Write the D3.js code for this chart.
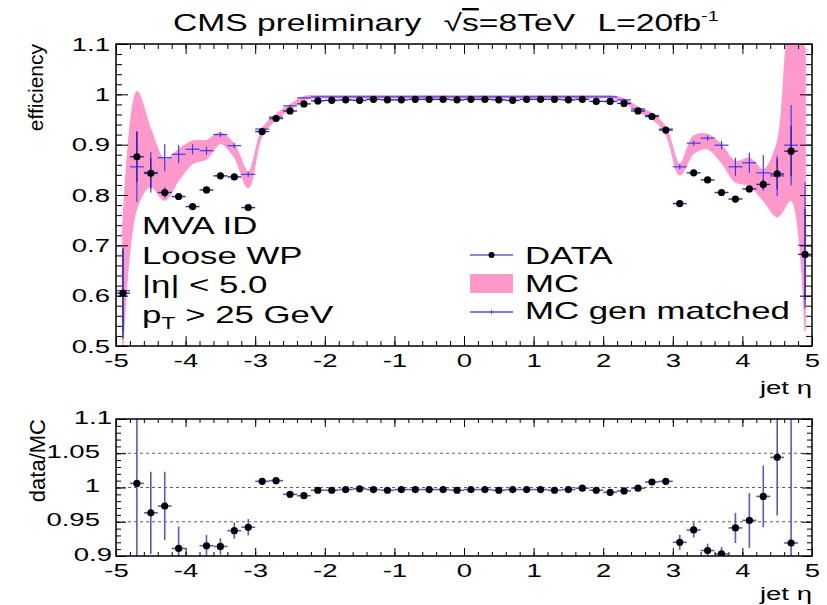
<!DOCTYPE html>
<html>
<head>
<meta charset="utf-8">
<title>Jet MVA ID efficiency vs jet eta</title>
<script src="https://cdn.jsdelivr.net/npm/d3@7"></script>
<style>
  body { margin: 0; background: #fff; }
  svg text { font-family: "Liberation Sans", Arial, Helvetica, sans-serif; fill: #000; }
</style>
</head>
<body>
<div id="chart"></div>
<script>
// bin centres in jet eta (bin width 0.2)
var etaBins = [-4.9, -4.7, -4.5, -4.3, -4.1, -3.9, -3.7, -3.5, -3.3, -3.1,
               -2.9, -2.7, -2.5, -2.3, -2.1, -1.9, -1.7, -1.5, -1.3, -1.1,
               -0.9, -0.7, -0.5, -0.3, -0.1, 0.1, 0.3, 0.5, 0.7, 0.9,
               1.1, 1.3, 1.5, 1.7, 1.9, 2.1, 2.3, 2.5, 2.7, 2.9,
               3.1, 3.3, 3.5, 3.7, 3.9, 4.1, 4.3, 4.5, 4.7, 4.9];

// DATA efficiency
var dataEff = [0.605, 0.876, 0.843, 0.805, 0.797, 0.777, 0.810, 0.838, 0.836, 0.775,
               0.926, 0.952, 0.967, 0.981, 0.987, 0.988, 0.989, 0.988, 0.990, 0.989,
               0.989, 0.990, 0.990, 0.990, 0.989, 0.990, 0.990, 0.989, 0.988, 0.990,
               0.990, 0.990, 0.989, 0.990, 0.986, 0.986, 0.982, 0.967, 0.956, 0.929,
               0.783, 0.844, 0.830, 0.805, 0.792, 0.812, 0.821, 0.842, 0.887, 0.682];
var dataErr = [0.090, 0.050, 0.030, 0.010, 0.006, 0.004, 0.004, 0.003, 0.003, 0.003,
               0.002, 0.002, 0.001, 0.001, 0.001, 0.001, 0.001, 0.001, 0.001, 0.001,
               0.001, 0.001, 0.001, 0.001, 0.001, 0.001, 0.001, 0.001, 0.001, 0.001,
               0.001, 0.001, 0.001, 0.001, 0.001, 0.001, 0.001, 0.001, 0.002, 0.002,
               0.003, 0.003, 0.003, 0.004, 0.004, 0.006, 0.010, 0.030, 0.050, 0.090];

// MC efficiency band (centre and half width)
var mcEff = [0.620, 0.890, 0.873, 0.830, 0.860, 0.885, 0.890, 0.913, 0.888, 0.830,
             0.925, 0.955, 0.975, 0.992, 0.995, 0.995, 0.995, 0.995, 0.995, 0.995,
             0.995, 0.995, 0.995, 0.995, 0.995, 0.995, 0.995, 0.995, 0.995, 0.995,
             0.995, 0.995, 0.995, 0.995, 0.995, 0.995, 0.988, 0.970, 0.957, 0.928,
             0.850, 0.900, 0.906, 0.882, 0.846, 0.846, 0.820, 0.830, 0.960, 0.810];
var mcErr = [0.120, 0.115, 0.056, 0.040, 0.030, 0.022, 0.018, 0.010, 0.012, 0.015,
             0.006, 0.005, 0.004, 0.003, 0.002, 0.002, 0.002, 0.002, 0.002, 0.002,
             0.002, 0.002, 0.002, 0.002, 0.002, 0.002, 0.002, 0.002, 0.002, 0.002,
             0.002, 0.002, 0.002, 0.002, 0.002, 0.002, 0.003, 0.004, 0.005, 0.006,
             0.010, 0.017, 0.014, 0.017, 0.020, 0.027, 0.030, 0.073, 0.170, 0.280];

// MC gen matched efficiency
var genEff = [0.610, 0.856, 0.845, 0.874, 0.881, 0.891, 0.888, 0.920, 0.898, 0.841,
              0.931, 0.955, 0.977, 0.993, 0.995, 0.995, 0.995, 0.995, 0.995, 0.995,
              0.995, 0.995, 0.995, 0.995, 0.995, 0.995, 0.995, 0.995, 0.995, 0.995,
              0.995, 0.995, 0.995, 0.995, 0.995, 0.995, 0.989, 0.971, 0.958, 0.931,
              0.856, 0.903, 0.913, 0.899, 0.856, 0.864, 0.844, 0.838, 0.899, 0.700];
var genErr = [0.080, 0.070, 0.040, 0.027, 0.018, 0.010, 0.008, 0.005, 0.005, 0.005,
              0.003, 0.002, 0.002, 0.001, 0.001, 0.001, 0.001, 0.001, 0.001, 0.001,
              0.001, 0.001, 0.001, 0.001, 0.001, 0.001, 0.001, 0.001, 0.001, 0.001,
              0.001, 0.001, 0.001, 0.001, 0.001, 0.001, 0.001, 0.002, 0.002, 0.003,
              0.005, 0.005, 0.005, 0.008, 0.018, 0.020, 0.035, 0.040, 0.080, 0.125];

// data/MC ratio (null = not drawn)
var ratio = [null, 1.006, 0.963, 0.973, 0.911, null, 0.915, 0.914, 0.937, 0.942,
             1.009, 1.010, 0.990, 0.988, 0.996, 0.996, 0.997, 0.998, 0.997, 0.996,
             0.997, 0.997, 0.997, 0.997, 0.996, 0.997, 0.997, 0.996, 0.997, 0.997,
             0.997, 0.996, 0.997, 0.999, 0.996, 0.993, 0.995, 0.999, 1.008, 1.009,
             0.920, 0.938, 0.908, 0.903, 0.941, 0.952, 0.987, 1.044, 0.919, null];
var ratioErr = [0, 0.150, 0.060, 0.050, 0.032, 0, 0.016, 0.012, 0.012, 0.012,
                0.004, 0.003, 0.002, 0.002, 0.002, 0.001, 0.001, 0.001, 0.001, 0.001,
                0.001, 0.001, 0.001, 0.001, 0.001, 0.001, 0.001, 0.001, 0.001, 0.001,
                0.001, 0.001, 0.001, 0.001, 0.001, 0.002, 0.002, 0.002, 0.003, 0.004,
                0.011, 0.011, 0.010, 0.010, 0.022, 0.040, 0.045, 0.085, 0.180, 0];

var etaTicks = [-5, -4, -3, -2, -1, 0, 1, 2, 3, 4, 5];
var effTicks = [0.5, 0.6, 0.7, 0.8, 0.9, 1, 1.1];
var ratioTicks = [0.9, 0.95, 1, 1.05, 1.1];
var ratioGrid = [0.95, 1, 1.05];

var pink = "#ff99cc", dataBlue = "#2a2aa8", genBlue = "#3b3bf0", ratioBlue = "#5a5ac4";
var SX = 1.45; // the original canvas has wide, horizontally stretched lettering

var svg = d3.select("#chart").append("svg")
    .attr("width", 827)
    .attr("height", 605);

var pTop = {left: 116, right: 812, top: 44, bottom: 346};
var pBot = {left: 116, right: 812, top: 419, bottom: 556};

var x = d3.scaleLinear().domain([-5, 5]).range([pTop.left, pTop.right]);
var yEff = d3.scaleLinear().domain([0.5, 1.1]).range([pTop.bottom, pTop.top]);
var yRat = d3.scaleLinear().domain([0.9, 1.1]).range([pBot.bottom, pBot.top]);

var defs = svg.append("defs");
defs.append("clipPath").attr("id", "clipTop").append("rect")
    .attr("x", pTop.left).attr("y", pTop.top)
    .attr("width", pTop.right - pTop.left).attr("height", pTop.bottom - pTop.top);
defs.append("clipPath").attr("id", "clipBot").append("rect")
    .attr("x", pBot.left).attr("y", pBot.top)
    .attr("width", pBot.right - pBot.left).attr("height", pBot.bottom - pBot.top);

var bins = etaBins.map(function (e, i) {
    return {eta: e, data: dataEff[i], dErr: dataErr[i], mc: mcEff[i], mErr: mcErr[i],
            gen: genEff[i], gErr: genErr[i], r: ratio[i], rErr: ratioErr[i]};
});

// wide text placed at (tx, ty)
function wideText(parent, tx, ty, size, anchor) {
    return parent.append("text")
        .attr("transform", "translate(" + tx + "," + ty + ") scale(" + SX + ",1)")
        .attr("text-anchor", anchor || "start")
        .attr("font-size", size);
}

// ---- top panel ----
var gTop = svg.append("g").attr("clip-path", "url(#clipTop)");

var band = d3.area()
    .x(function (d) { return x(d.eta); })
    .y0(function (d) { return yEff(d.mc - d.mErr); })
    .y1(function (d) { return yEff(d.mc + d.mErr); })
    .curve(d3.curveCatmullRom.alpha(0.5));

gTop.append("path").datum(bins)
    .attr("d", band)
    .attr("fill", pink)
    .attr("stroke", pink)
    .attr("stroke-width", 1.5);

function errorBars(g, data, key, errKey, ys, color, width) {
    var sel = g.selectAll(null).data(data.filter(function (d) { return d[key] != null; })).enter();
    sel.append("line")
        .attr("x1", function (d) { return x(d.eta - 0.1); })
        .attr("x2", function (d) { return x(d.eta + 0.1); })
        .attr("y1", function (d) { return ys(d[key]); })
        .attr("y2", function (d) { return ys(d[key]); })
        .attr("stroke", color).attr("stroke-width", width);
    sel.append("line")
        .attr("x1", function (d) { return x(d.eta); })
        .attr("x2", function (d) { return x(d.eta); })
        .attr("y1", function (d) { return ys(d[key] - d[errKey]); })
        .attr("y2", function (d) { return ys(d[key] + d[errKey]); })
        .attr("stroke", color).attr("stroke-width", width);
}

errorBars(gTop, bins, "gen", "gErr", yEff, genBlue, 1.2);
errorBars(gTop, bins, "data", "dErr", yEff, dataBlue, 1.4);

gTop.selectAll("circle.data").data(bins).enter().append("circle")
    .attr("class", "data")
    .attr("cx", function (d) { return x(d.eta); })
    .attr("cy", function (d) { return yEff(d.data); })
    .attr("r", 3.6)
    .attr("fill", "#000");

// ---- bottom panel ----
var gBot = svg.append("g").attr("clip-path", "url(#clipBot)");

gBot.selectAll("line.grid").data(ratioGrid).enter().append("line")
    .attr("class", "grid")
    .attr("x1", pBot.left).attr("x2", pBot.right)
    .attr("y1", function (d) { return yRat(d); })
    .attr("y2", function (d) { return yRat(d); })
    .attr("stroke", "#333").attr("stroke-width", 0.8)
    .attr("stroke-dasharray", "3,3");

errorBars(gBot, bins, "r", "rErr", yRat, ratioBlue, 1.6);

gBot.selectAll("circle.rat").data(bins.filter(function (d) { return d.r != null; })).enter().append("circle")
    .attr("class", "rat")
    .attr("cx", function (d) { return x(d.eta); })
    .attr("cy", function (d) { return yRat(d.r); })
    .attr("r", 3.6)
    .attr("fill", "#000");

// ---- axes, ROOT style ticks on all four sides ----
function axes(p, ys, yMajor, yMinor, xLen, yLen, yLabelEnd, yLabelDy) {
    var g = svg.append("g");
    var xMinor = d3.range(-5, 5.0001, 0.2);

    g.append("g").attr("class", "xlab").attr("transform", "translate(0," + p.bottom + ")")
        .call(d3.axisBottom(x).tickValues(etaTicks).tickSize(-xLen).tickPadding(8)
            .tickFormat(function (d) { return String(d); }));
    g.append("g").attr("transform", "translate(0," + p.bottom + ")")
        .call(d3.axisBottom(x).tickValues(xMinor).tickSize(-xLen / 2).tickFormat(""));
    g.append("g").attr("transform", "translate(0," + p.top + ")")
        .call(d3.axisTop(x).tickValues(etaTicks).tickSize(-xLen).tickFormat(""));
    g.append("g").attr("transform", "translate(0," + p.top + ")")
        .call(d3.axisTop(x).tickValues(xMinor).tickSize(-xLen / 2).tickFormat(""));

    g.append("g").attr("class", "ylab").attr("transform", "translate(" + p.left + ",0)")
        .call(d3.axisLeft(ys).tickValues(yMajor).tickSize(-yLen).tickPadding(5)
            .tickFormat(function (d) { return String(d); }));
    g.append("g").attr("transform", "translate(" + p.left + ",0)")
        .call(d3.axisLeft(ys).tickValues(yMinor).tickSize(-yLen / 2).tickFormat(""));
    g.append("g").attr("transform", "translate(" + p.right + ",0)")
        .call(d3.axisRight(ys).tickValues(yMajor).tickSize(-yLen).tickFormat(""));
    g.append("g").attr("transform", "translate(" + p.right + ",0)")
        .call(d3.axisRight(ys).tickValues(yMinor).tickSize(-yLen / 2).tickFormat(""));

    g.selectAll(".domain").remove();
    g.selectAll(".tick line").attr("stroke", "#000").attr("stroke-width", 1);
    g.selectAll("g").attr("font-family", null).attr("font-size", null);
    g.selectAll("text").attr("font-size", 19)
        .attr("transform", "scale(" + SX + ",1)");
    g.selectAll(".ylab text")
        .attr("x", function (d) { return -yLabelEnd(d) / SX; })
        .attr("dy", yLabelDy);

    g.append("rect")
        .attr("x", p.left).attr("y", p.top)
        .attr("width", p.right - p.left).attr("height", p.bottom - p.top)
        .attr("fill", "none").attr("stroke", "#000").attr("stroke-width", 1.5);
}

axes(pTop, yEff, effTicks, d3.range(0.5, 1.1001, 0.02), 10, 12,
    function () { return 6; }, "0.32em");
axes(pBot, yRat, ratioTicks, d3.range(0.9, 1.1001, 0.01), 8, 10,
    function (d) { return (d === 1.1 || d === 0.9) ? 4 : 16; }, "0.22em");

// axis titles
svg.append("text")
    .attr("transform", "translate(43," + pTop.top + ") rotate(-90)")
    .attr("text-anchor", "end").attr("font-size", 21)
    .text("efficiency");
svg.append("text")
    .attr("transform", "translate(45," + pBot.top + ") rotate(-90)")
    .attr("text-anchor", "end").attr("font-size", 22)
    .text("data/MC");
wideText(svg, pTop.right, 394, 19, "end").text("jet η");
wideText(svg, pBot.right, 600, 19, "end").text("jet η");

// title
var title = svg.append("text")
    .attr("transform", "translate(173,31) scale(1.4,1)")
    .attr("font-size", 24);
title.append("tspan").text("CMS preliminary");
title.append("tspan").attr("dx", 16).text("√");
title.append("tspan").style("text-decoration", "overline").text("s");
title.append("tspan").text("=8TeV");
title.append("tspan").attr("dx", 16).text("L=20fb");
title.append("tspan").attr("dy", -10).attr("font-size", 14).text("-1");

// selection text
wideText(svg, 142, 234, 24).text("MVA ID");
wideText(svg, 142, 264, 24).text("Loose WP");
wideText(svg, 142, 293, 24).text("|η| < 5.0");
var pt = wideText(svg, 142, 323, 24);
pt.append("tspan").text("p");
pt.append("tspan").attr("dy", 6).attr("font-size", 16).text("T");
pt.append("tspan").attr("dy", -6).text(" > 25 GeV");

// legend
var leg = svg.append("g");
leg.append("line").attr("x1", 470).attr("x2", 513).attr("y1", 255).attr("y2", 255)
    .attr("stroke", "#6060d0").attr("stroke-width", 1.5);
leg.append("circle").attr("cx", 491.5).attr("cy", 255).attr("r", 3).attr("fill", "#000");
wideText(leg, 525, 264, 24).text("DATA");
leg.append("rect").attr("x", 470).attr("y", 274).attr("width", 43).attr("height", 19)
    .attr("fill", pink);
wideText(leg, 525, 292, 24).text("MC");
leg.append("line").attr("x1", 470).attr("x2", 513).attr("y1", 312).attr("y2", 312)
    .attr("stroke", "#5050e0").attr("stroke-width", 1.5);
leg.append("line").attr("x1", 491.5).attr("x2", 491.5).attr("y1", 310).attr("y2", 314)
    .attr("stroke", "#5050e0").attr("stroke-width", 1);
wideText(leg, 525, 319, 24).text("MC gen matched");
</script>
</body>
</html>
